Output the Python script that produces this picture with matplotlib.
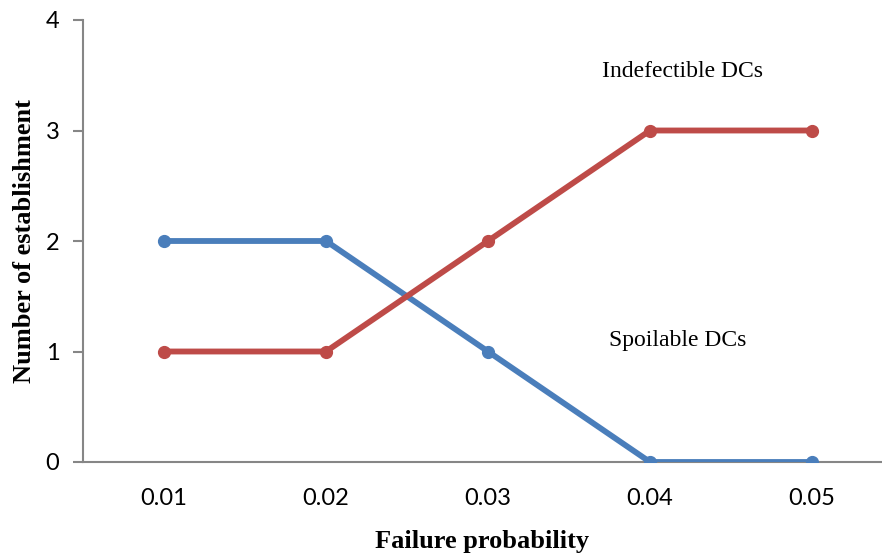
import matplotlib
matplotlib.use("Agg")
import matplotlib.pyplot as plt

categories = ["0.01", "0.02", "0.03", "0.04", "0.05"]
spoilable = [2, 2, 1, 0, 0]
indefectible = [1, 1, 2, 3, 3]
yticks = [0, 1, 2, 3, 4]

W, H = 882, 553
fig = plt.figure(figsize=(W/100, H/100), dpi=100)
ax = fig.add_axes([83/W, (H-462)/H, (882-83)/W, 442/H])
x = list(range(len(categories)))
blue = "#4a7ebb"
red = "#be4b48"
ax.plot(x, spoilable, color=blue, lw=4.2, marker="o", ms=8.5, solid_capstyle="butt", zorder=3)
ax.plot(x, indefectible, color=red, lw=4.2, marker="o", ms=8.5, solid_capstyle="butt", zorder=3)

ax.set_xlim(-0.5, (882-164)/162)
ax.set_ylim(0, 4)
ax.set_xticks(x)
ax.set_xticklabels(categories, fontfamily="Lato", fontsize=17)
ax.set_yticks(yticks)
ax.set_yticklabels([str(v) for v in yticks], fontfamily="Lato", fontsize=17)
for s in ["top", "right"]:
    ax.spines[s].set_visible(False)
for s in ["left", "bottom"]:
    ax.spines[s].set_color("#868686")
    ax.spines[s].set_linewidth(1.5)
ax.tick_params(axis="x", length=0, pad=19)
ax.tick_params(axis="y", length=7, width=1.5, color="#868686", pad=10)

ax.set_xlabel("Failure probability", fontfamily="Liberation Serif", fontweight="bold", fontsize=19, labelpad=15)
ax.set_ylabel("Number of establishment", fontfamily="Liberation Serif", fontweight="bold", fontsize=19, labelpad=7)

ax.text(3.2, 3.53, "Indefectible DCs", fontfamily="Liberation Serif", fontsize=17, ha="center", va="center")
ax.text(3.17, 1.1, "Spoilable DCs", fontfamily="Liberation Serif", fontsize=17, ha="center", va="center")

fig.savefig("out.png", dpi=100)
